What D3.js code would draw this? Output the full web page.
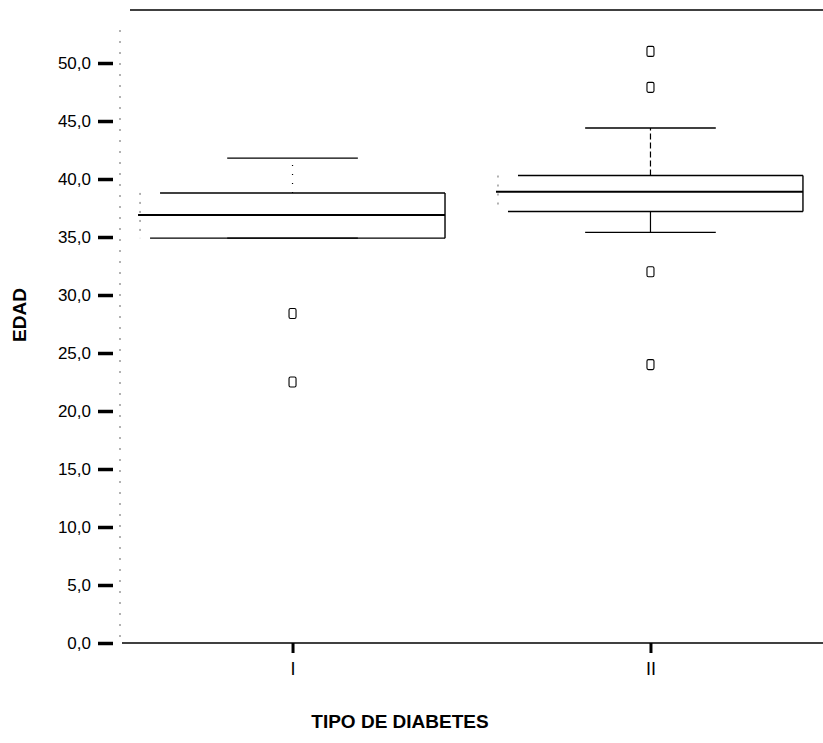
<!DOCTYPE html>
<html>
<head>
<meta charset="utf-8">
<script src="https://cdn.jsdelivr.net/npm/d3@7/dist/d3.min.js"></script>
<style>
  html, body { margin: 0; padding: 0; background: #fff; }
  svg { display: block; }
  text { font-family: Arial, "Liberation Sans", Helvetica, sans-serif; fill: #000; }
</style>
</head>
<body>
<svg id="chart" width="823" height="743"></svg>
<script>
// ---- data ----
const categories = ["I", "II"];
const whiskerLow  = [34.9, 35.4];
const q1          = [34.9, 37.2];
const median      = [36.9, 38.9];
const q3          = [38.8, 40.3];
const whiskerHigh = [41.8, 44.4];
const outliersI   = [28.4, 22.5];
const outliersII  = [51.0, 47.9, 32.0, 24.0];
const yTicks = [0, 5, 10, 15, 20, 25, 30, 35, 40, 45, 50];

const outliers = [outliersI, outliersII];

// ---- layout ----
const svg = d3.select("#chart");
const plotLeft = 120, plotRight = 823, plotTop = 10, plotBottom = 643;

const y = d3.scaleLinear().domain([0, 54.57]).range([plotBottom, plotTop]);
const x = d3.scalePoint().domain(categories).range([plotLeft, plotRight]).padding(0.482);
const step = x.step();
const boxW = step * 0.852;
const capW = step * 0.365;

// frame lines
svg.append("line").attr("x1", plotLeft + 10).attr("x2", plotRight).attr("y1", plotTop).attr("y2", plotTop)
  .attr("stroke", "#000").attr("stroke-width", 1.3);
svg.append("line").attr("x1", plotLeft).attr("x2", plotLeft).attr("y1", plotTop + 20).attr("y2", plotBottom)
  .attr("stroke", "#000").attr("stroke-width", 1).attr("stroke-dasharray", "2,9").attr("opacity", 0.6);
svg.append("line").attr("x1", plotLeft + 2).attr("x2", plotRight).attr("y1", plotBottom).attr("y2", plotBottom)
  .attr("stroke", "#000").attr("stroke-width", 1.3);

// y axis
const yAxis = d3.axisLeft(y).tickValues(yTicks).tickSize(15).tickPadding(7)
  .tickFormat(d => d3.format(".1f")(d).replace(".", ","));
const gy = svg.append("g").attr("transform", `translate(${plotLeft - 7},0)`).call(yAxis);
gy.select(".domain").remove();
gy.selectAll(".tick line").attr("stroke", "#000").attr("stroke-width", 3.5);
gy.selectAll(".tick text").attr("font-size", 17).attr("font-family", "Arial, 'Liberation Sans', sans-serif");

// x axis
const xAxis = d3.axisBottom(x).tickSize(10).tickPadding(9);
const gx = svg.append("g").attr("transform", `translate(0,${plotBottom})`).call(xAxis);
gx.select(".domain").remove();
gx.selectAll(".tick line").attr("stroke", "#000").attr("stroke-width", 3);
gx.selectAll(".tick text").attr("font-size", 18).attr("font-family", "Arial, 'Liberation Sans', sans-serif");

// boxes
const g = svg.append("g");
categories.forEach((c, i) => {
  const cx = x(c);
  const x0 = cx - boxW / 2, x1 = cx + boxW / 2;
  const sw = 1.4;
  // whiskers
  g.append("line").attr("x1", cx).attr("x2", cx).attr("y1", y(q3[i])).attr("y2", y(whiskerHigh[i]))
    .attr("stroke", "#000").attr("stroke-width", 1.2).attr("stroke-dasharray", i === 0 ? "1,8" : "6,3");
  g.append("line").attr("x1", cx).attr("x2", cx).attr("y1", y(q1[i])).attr("y2", y(whiskerLow[i]))
    .attr("stroke", "#000").attr("stroke-width", 1.2);
  g.append("line").attr("x1", cx - capW / 2).attr("x2", cx + capW / 2)
    .attr("y1", y(whiskerHigh[i])).attr("y2", y(whiskerHigh[i])).attr("stroke", "#000").attr("stroke-width", sw);
  g.append("line").attr("x1", cx - capW / 2).attr("x2", cx + capW / 2)
    .attr("y1", y(whiskerLow[i])).attr("y2", y(whiskerLow[i])).attr("stroke", "#000").attr("stroke-width", sw);
  // box edges
  g.append("line").attr("x1", x0 + 20).attr("x2", x1).attr("y1", y(q3[i])).attr("y2", y(q3[i]))
    .attr("stroke", "#000").attr("stroke-width", sw);
  g.append("line").attr("x1", x0 + 10).attr("x2", x1).attr("y1", y(q1[i])).attr("y2", y(q1[i]))
    .attr("stroke", "#000").attr("stroke-width", sw);
  g.append("line").attr("x1", x1).attr("x2", x1).attr("y1", y(q3[i])).attr("y2", y(q1[i]))
    .attr("stroke", "#000").attr("stroke-width", sw);
  g.append("line").attr("x1", x0).attr("x2", x0).attr("y1", y(q3[i])).attr("y2", y(q1[i]))
    .attr("stroke", "#000").attr("stroke-width", 1).attr("stroke-dasharray", "2,7").attr("opacity", 0.6);
  // median
  g.append("line").attr("x1", x0 - 2).attr("x2", x1).attr("y1", y(median[i])).attr("y2", y(median[i]))
    .attr("stroke", "#000").attr("stroke-width", 2);
  // outliers
  outliers[i].forEach(v => {
    g.append("rect").attr("x", cx - 3.5).attr("y", y(v) - 5).attr("width", 7).attr("height", 10)
      .attr("rx", 1.5).attr("fill", "none").attr("stroke", "#000").attr("stroke-width", 1.1);
  });
});

// axis titles
svg.append("text").attr("transform", `translate(26,315) rotate(-90)`).attr("text-anchor", "middle")
  .attr("font-size", 19).attr("font-weight", "bold").text("EDAD");
svg.append("text").attr("x", 400).attr("y", 728).attr("text-anchor", "middle")
  .attr("font-size", 19).attr("font-weight", "bold").text("TIPO DE DIABETES");
</script>
</body>
</html>
